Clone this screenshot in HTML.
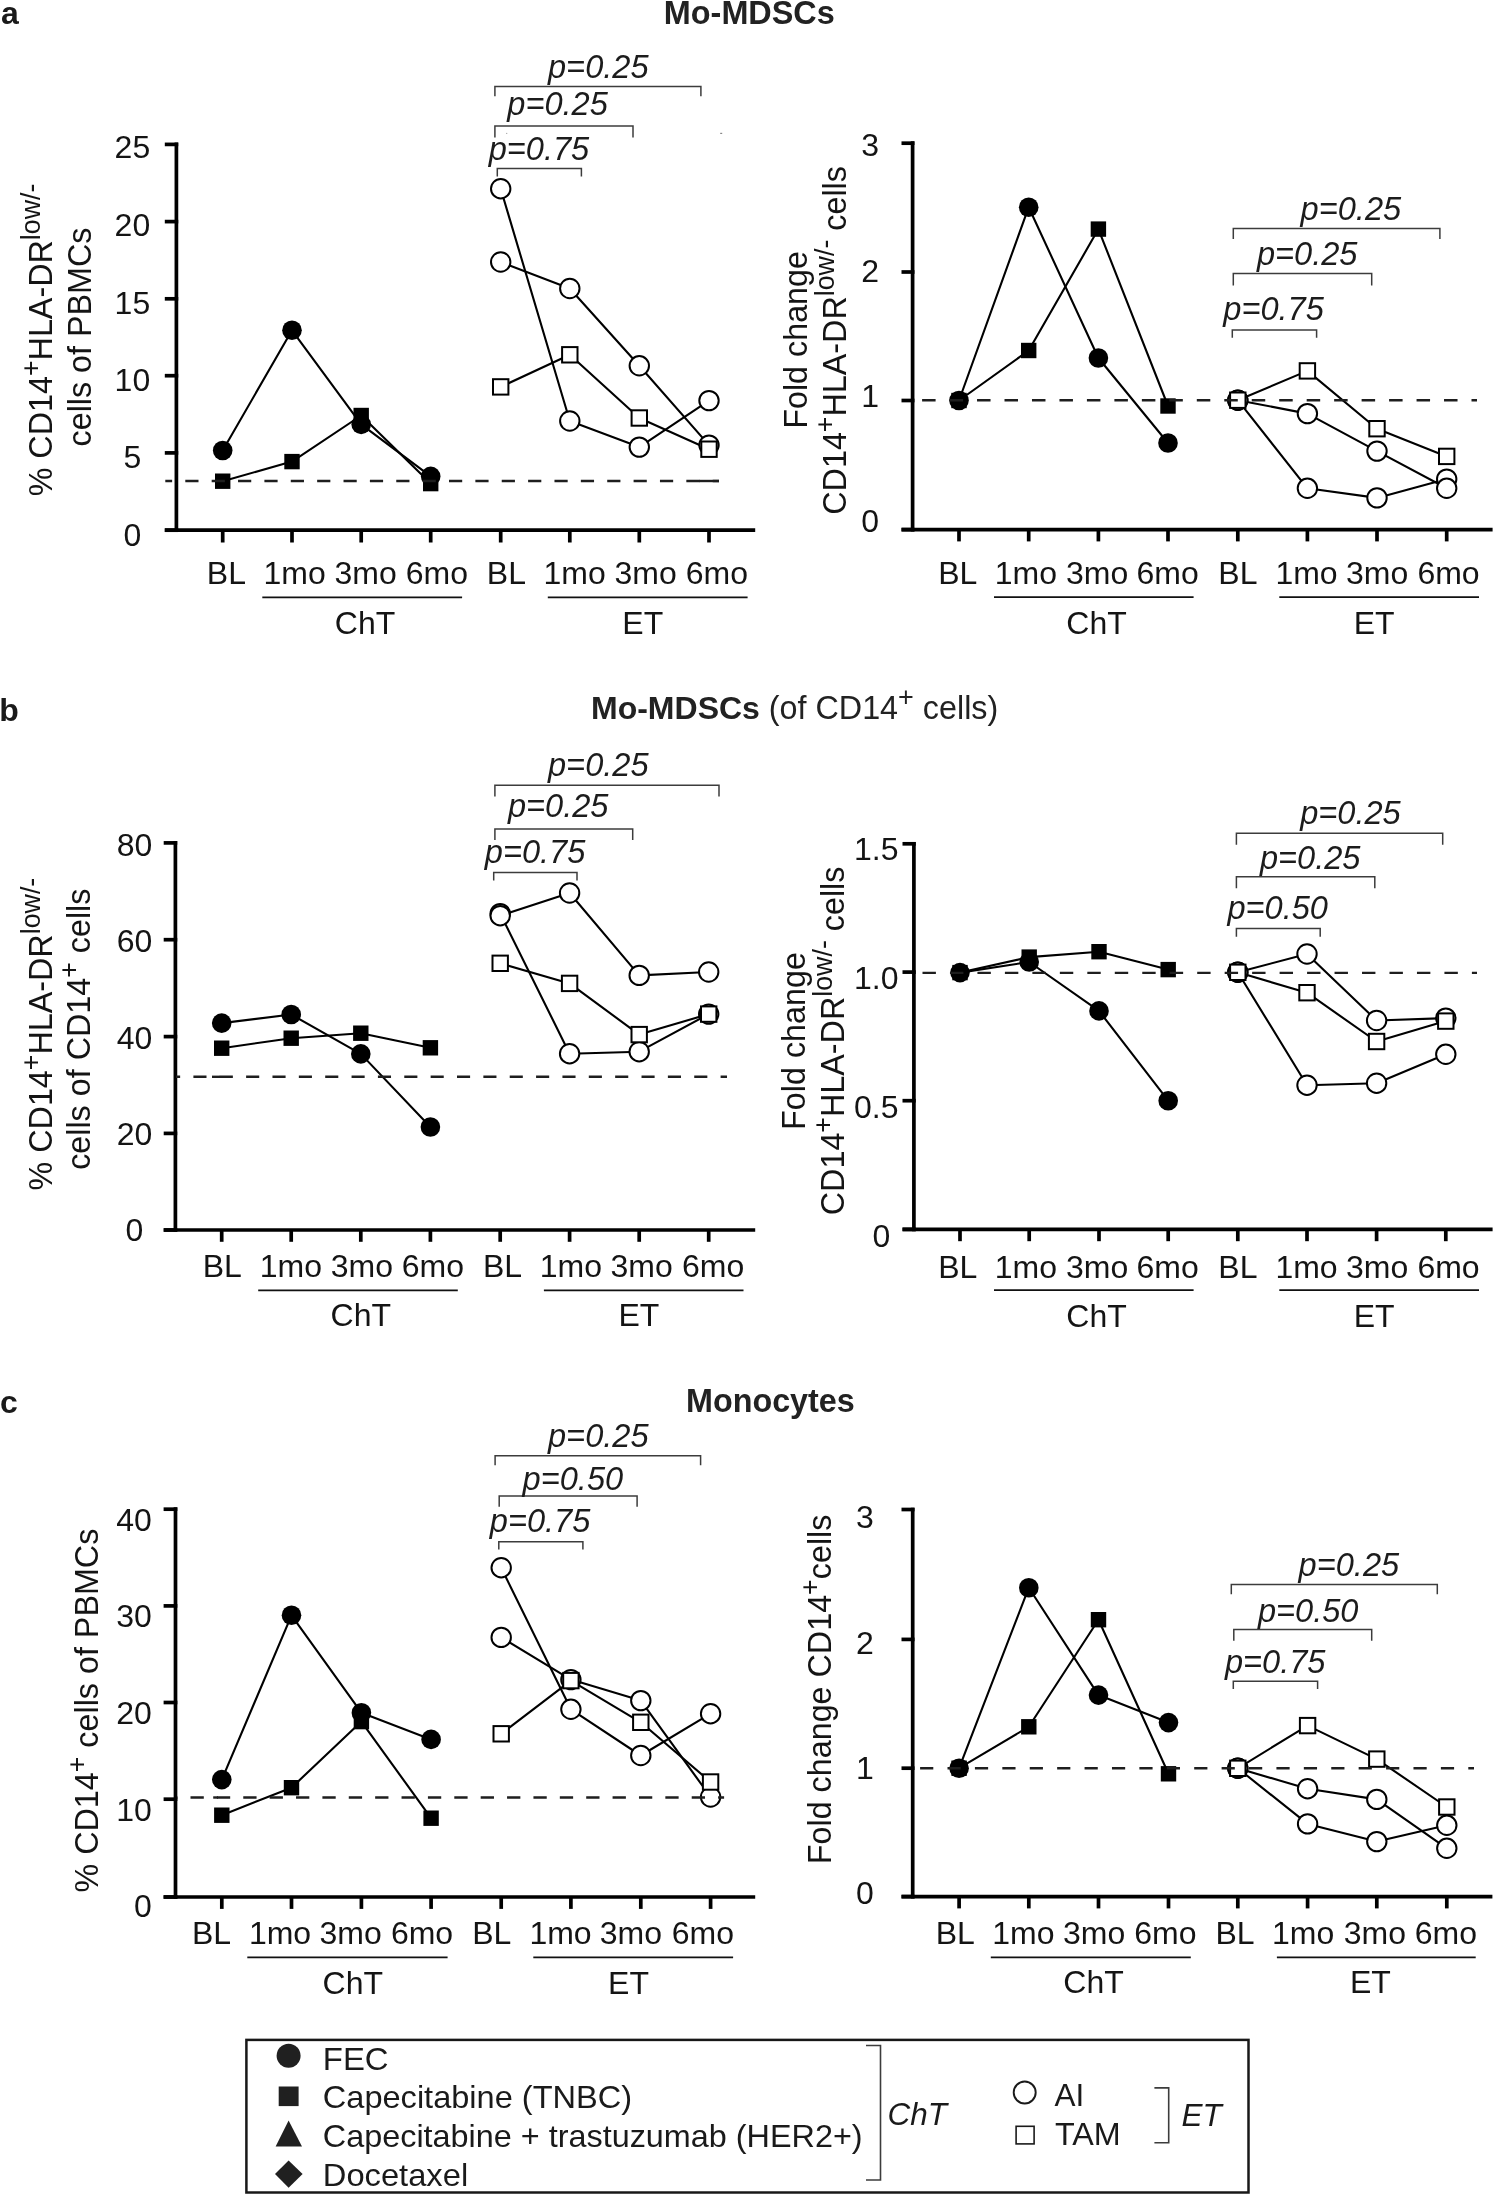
<!DOCTYPE html>
<html><head><meta charset="utf-8"><title>Figure</title><style>html,body{margin:0;padding:0;background:#fff;}svg{display:block;will-change:transform;}text{font-family:"Liberation Sans", sans-serif;}</style></head><body>
<svg width="1494" height="2195" viewBox="0 0 1494 2195" font-family='"Liberation Sans", sans-serif'>
<rect width="1494" height="2195" fill="#fff"/>
<text x="1" y="24.2" font-size="32" text-anchor="start" font-weight="bold" font-style="normal" fill="#1a1a1a" >a</text>
<text x="749.3" y="24" font-size="32.4" text-anchor="middle" font-weight="bold" font-style="normal" fill="#222" >Mo-MDSCs</text>
<text x="-0.7" y="720.8" font-size="32" text-anchor="start" font-weight="bold" font-style="normal" fill="#1a1a1a" >b</text>
<text x="591" y="719.1" font-size="32" fill="#222"><tspan font-weight="bold">Mo-MDSCs</tspan><tspan font-size="32.3"> (of CD14</tspan><tspan font-size="27" dy="-13">+</tspan><tspan dy="13" font-size="32.3"> cells)</tspan></text>
<text x="0" y="1413" font-size="32" text-anchor="start" font-weight="bold" font-style="normal" fill="#1a1a1a" >c</text>
<text x="770.4" y="1411.7" font-size="32.3" text-anchor="middle" font-weight="bold" font-style="normal" fill="#222" >Monocytes</text>
<line x1="164.8" y1="530.2" x2="178.25" y2="530.2" stroke="#000" stroke-width="3.7" />
<line x1="164.8" y1="452.9" x2="178.25" y2="452.9" stroke="#000" stroke-width="3.7" />
<line x1="164.8" y1="375.7" x2="178.25" y2="375.7" stroke="#000" stroke-width="3.7" />
<line x1="164.8" y1="298.8" x2="178.25" y2="298.8" stroke="#000" stroke-width="3.7" />
<line x1="164.8" y1="221.6" x2="178.25" y2="221.6" stroke="#000" stroke-width="3.7" />
<line x1="164.8" y1="144.4" x2="178.25" y2="144.4" stroke="#000" stroke-width="3.7" />
<text x="132.4" y="545.6" font-size="32" text-anchor="middle" font-weight="normal" font-style="normal" fill="#141414" >0</text>
<text x="132.4" y="468.2" font-size="32" text-anchor="middle" font-weight="normal" font-style="normal" fill="#141414" >5</text>
<text x="132.4" y="390.7" font-size="32" text-anchor="middle" font-weight="normal" font-style="normal" fill="#141414" >10</text>
<text x="132.4" y="313.5" font-size="32" text-anchor="middle" font-weight="normal" font-style="normal" fill="#141414" >15</text>
<text x="132.4" y="236" font-size="32" text-anchor="middle" font-weight="normal" font-style="normal" fill="#141414" >20</text>
<text x="132.4" y="158.3" font-size="32" text-anchor="middle" font-weight="normal" font-style="normal" fill="#141414" >25</text>
<line x1="176.4" y1="142.55" x2="176.4" y2="532.05" stroke="#000" stroke-width="3.7" />
<line x1="164.8" y1="530.2" x2="755.2" y2="530.2" stroke="#000" stroke-width="3.7" />
<line x1="222.7" y1="530.2" x2="222.7" y2="542.5" stroke="#000" stroke-width="3.7" />
<line x1="292" y1="530.2" x2="292" y2="542.5" stroke="#000" stroke-width="3.7" />
<line x1="361.2" y1="530.2" x2="361.2" y2="542.5" stroke="#000" stroke-width="3.7" />
<line x1="430.7" y1="530.2" x2="430.7" y2="542.5" stroke="#000" stroke-width="3.7" />
<line x1="500.7" y1="530.2" x2="500.7" y2="542.5" stroke="#000" stroke-width="3.7" />
<line x1="569.8" y1="530.2" x2="569.8" y2="542.5" stroke="#000" stroke-width="3.7" />
<line x1="639.3" y1="530.2" x2="639.3" y2="542.5" stroke="#000" stroke-width="3.7" />
<line x1="709" y1="530.2" x2="709" y2="542.5" stroke="#000" stroke-width="3.7" />
<text x="226.4" y="584.3" font-size="32" text-anchor="middle" font-weight="normal" font-style="normal" fill="#141414" >BL</text>
<text x="294.7" y="584.3" font-size="32" text-anchor="middle" font-weight="normal" font-style="normal" fill="#141414" >1mo</text>
<text x="365.7" y="584.3" font-size="32" text-anchor="middle" font-weight="normal" font-style="normal" fill="#141414" >3mo</text>
<text x="436.8" y="584.3" font-size="32" text-anchor="middle" font-weight="normal" font-style="normal" fill="#141414" >6mo</text>
<text x="506.4" y="584.3" font-size="32" text-anchor="middle" font-weight="normal" font-style="normal" fill="#141414" >BL</text>
<text x="574.7" y="584.3" font-size="32" text-anchor="middle" font-weight="normal" font-style="normal" fill="#141414" >1mo</text>
<text x="645.7" y="584.3" font-size="32" text-anchor="middle" font-weight="normal" font-style="normal" fill="#141414" >3mo</text>
<text x="716.8" y="584.3" font-size="32" text-anchor="middle" font-weight="normal" font-style="normal" fill="#141414" >6mo</text>
<line x1="262.3" y1="597.3" x2="462.1" y2="597.3" stroke="#111" stroke-width="1.8" />
<line x1="547.8" y1="597.3" x2="747.6" y2="597.3" stroke="#111" stroke-width="1.8" />
<text x="365" y="634" font-size="32" text-anchor="middle" font-weight="normal" font-style="normal" fill="#141414" >ChT</text>
<text x="642.8" y="634" font-size="32" text-anchor="middle" font-weight="normal" font-style="normal" fill="#141414" >ET</text>
<polyline points="222.7,481.2 292,461.6 361.2,415.5 430.7,483.6" fill="none" stroke="#000" stroke-width="2.1" stroke-linejoin="round"/>
<polyline points="222.7,450.5 292,330.3 361.2,424.4 430.7,476.4" fill="none" stroke="#000" stroke-width="2.1" stroke-linejoin="round"/>
<polyline points="500.7,188.7 569.8,421 639.3,447.1 709,400.6" fill="none" stroke="#000" stroke-width="2.1" stroke-linejoin="round"/>
<polyline points="500.7,262 569.8,288.5 639.3,365.8 709,445.1" fill="none" stroke="#000" stroke-width="2.1" stroke-linejoin="round"/>
<polyline points="500.7,386.9 569.8,354.8 639.3,418 709,449.2" fill="none" stroke="#000" stroke-width="2.1" stroke-linejoin="round"/>
<rect x="215" y="473.5" width="15.4" height="15.4" fill="#000"/>
<rect x="284.3" y="453.9" width="15.4" height="15.4" fill="#000"/>
<rect x="353.5" y="407.8" width="15.4" height="15.4" fill="#000"/>
<rect x="423" y="475.9" width="15.4" height="15.4" fill="#000"/>
<circle cx="222.7" cy="450.5" r="9.8" fill="#000"/>
<circle cx="292" cy="330.3" r="9.8" fill="#000"/>
<circle cx="361.2" cy="424.4" r="9.8" fill="#000"/>
<circle cx="430.7" cy="476.4" r="9.8" fill="#000"/>
<circle cx="500.7" cy="188.7" r="9.7" fill="#fff" stroke="#000" stroke-width="2"/>
<circle cx="569.8" cy="421" r="9.7" fill="#fff" stroke="#000" stroke-width="2"/>
<circle cx="639.3" cy="447.1" r="9.7" fill="#fff" stroke="#000" stroke-width="2"/>
<circle cx="709" cy="400.6" r="9.7" fill="#fff" stroke="#000" stroke-width="2"/>
<circle cx="500.7" cy="262" r="9.7" fill="#fff" stroke="#000" stroke-width="2"/>
<circle cx="569.8" cy="288.5" r="9.7" fill="#fff" stroke="#000" stroke-width="2"/>
<circle cx="639.3" cy="365.8" r="9.7" fill="#fff" stroke="#000" stroke-width="2"/>
<circle cx="709" cy="445.1" r="9.7" fill="#fff" stroke="#000" stroke-width="2"/>
<rect x="493" y="379.2" width="15.4" height="15.4" fill="#fff" stroke="#000" stroke-width="2"/>
<rect x="562.1" y="347.1" width="15.4" height="15.4" fill="#fff" stroke="#000" stroke-width="2"/>
<rect x="631.6" y="410.3" width="15.4" height="15.4" fill="#fff" stroke="#000" stroke-width="2"/>
<rect x="701.3" y="441.5" width="15.4" height="15.4" fill="#fff" stroke="#000" stroke-width="2"/>
<line x1="165.3" y1="481" x2="719" y2="481" stroke="#1e1e1e" stroke-width="2.4" stroke-dasharray="13.2 13.17" stroke-dashoffset="6.37"/>
<line x1="699" y1="481" x2="719" y2="481" stroke="#1e1e1e" stroke-width="2.4" />
<path d="M494.9,96.2 V86.6 H700.9 V96.2" fill="none" stroke="#3c3c3c" stroke-width="1.5"/>
<path d="M494.9,137.4 V126 H633 V137.4" fill="none" stroke="#3c3c3c" stroke-width="1.5"/>
<path d="M497.3,176.5 V168.5 H581.4 V176.5" fill="none" stroke="#3c3c3c" stroke-width="1.5"/>
<text x="548" y="78.2" font-size="32.6" text-anchor="start" font-weight="normal" font-style="italic" fill="#1c1c1c" ><tspan>p=0.25</tspan></text>
<text x="507.3" y="115.3" font-size="32.6" text-anchor="start" font-weight="normal" font-style="italic" fill="#1c1c1c" >p=0.25</text>
<text x="488.7" y="159.5" font-size="32.6" text-anchor="start" font-weight="normal" font-style="italic" fill="#1c1c1c" >p=0.75</text>
<text transform="translate(52,340) rotate(-90)" x="0" y="0" font-size="32.3" text-anchor="middle" fill="#141414">% CD14<tspan font-size="26.8" dy="-12">+</tspan><tspan dy="12">HLA-DR</tspan><tspan font-size="26.8" dy="-12">low/-</tspan></text>
<text transform="translate(90.7,337) rotate(-90)" x="0" y="0" font-size="32.3" text-anchor="middle" fill="#141414">cells of PBMCs</text>
<line x1="901.5" y1="529.6" x2="914.45" y2="529.6" stroke="#000" stroke-width="3.7" />
<line x1="901.5" y1="400.5" x2="914.45" y2="400.5" stroke="#000" stroke-width="3.7" />
<line x1="901.5" y1="272" x2="914.45" y2="272" stroke="#000" stroke-width="3.7" />
<line x1="901.5" y1="143.2" x2="914.45" y2="143.2" stroke="#000" stroke-width="3.7" />
<text x="870.1" y="532.3" font-size="32" text-anchor="middle" font-weight="normal" font-style="normal" fill="#141414" >0</text>
<text x="870.1" y="407.1" font-size="32" text-anchor="middle" font-weight="normal" font-style="normal" fill="#141414" >1</text>
<text x="870.1" y="281.7" font-size="32" text-anchor="middle" font-weight="normal" font-style="normal" fill="#141414" >2</text>
<text x="870.1" y="155.8" font-size="32" text-anchor="middle" font-weight="normal" font-style="normal" fill="#141414" >3</text>
<line x1="912.6" y1="141.35" x2="912.6" y2="531.45" stroke="#000" stroke-width="3.7" />
<line x1="901.5" y1="529.6" x2="1492.6" y2="529.6" stroke="#000" stroke-width="3.7" />
<line x1="959" y1="529.6" x2="959" y2="541.4" stroke="#000" stroke-width="3.7" />
<line x1="1028.7" y1="529.6" x2="1028.7" y2="541.4" stroke="#000" stroke-width="3.7" />
<line x1="1098.4" y1="529.6" x2="1098.4" y2="541.4" stroke="#000" stroke-width="3.7" />
<line x1="1168" y1="529.6" x2="1168" y2="541.4" stroke="#000" stroke-width="3.7" />
<line x1="1237.8" y1="529.6" x2="1237.8" y2="541.4" stroke="#000" stroke-width="3.7" />
<line x1="1307.4" y1="529.6" x2="1307.4" y2="541.4" stroke="#000" stroke-width="3.7" />
<line x1="1377" y1="529.6" x2="1377" y2="541.4" stroke="#000" stroke-width="3.7" />
<line x1="1446.7" y1="529.6" x2="1446.7" y2="541.4" stroke="#000" stroke-width="3.7" />
<text x="957.8" y="584.1" font-size="32" text-anchor="middle" font-weight="normal" font-style="normal" fill="#141414" >BL</text>
<text x="1025.9" y="584.1" font-size="32" text-anchor="middle" font-weight="normal" font-style="normal" fill="#141414" >1mo</text>
<text x="1097.1" y="584.1" font-size="32" text-anchor="middle" font-weight="normal" font-style="normal" fill="#141414" >3mo</text>
<text x="1167.6" y="584.1" font-size="32" text-anchor="middle" font-weight="normal" font-style="normal" fill="#141414" >6mo</text>
<text x="1237.9" y="584.1" font-size="32" text-anchor="middle" font-weight="normal" font-style="normal" fill="#141414" >BL</text>
<text x="1306.5" y="584.1" font-size="32" text-anchor="middle" font-weight="normal" font-style="normal" fill="#141414" >1mo</text>
<text x="1377.1" y="584.1" font-size="32" text-anchor="middle" font-weight="normal" font-style="normal" fill="#141414" >3mo</text>
<text x="1448.5" y="584.1" font-size="32" text-anchor="middle" font-weight="normal" font-style="normal" fill="#141414" >6mo</text>
<line x1="994" y1="597.2" x2="1193.6" y2="597.2" stroke="#111" stroke-width="1.8" />
<line x1="1279.3" y1="597.2" x2="1479" y2="597.2" stroke="#111" stroke-width="1.8" />
<text x="1096.5" y="633.8" font-size="32" text-anchor="middle" font-weight="normal" font-style="normal" fill="#141414" >ChT</text>
<text x="1374.2" y="633.8" font-size="32" text-anchor="middle" font-weight="normal" font-style="normal" fill="#141414" >ET</text>
<polyline points="959,400.5 1028.7,350.5 1098.4,229.1 1168,406" fill="none" stroke="#000" stroke-width="2.1" stroke-linejoin="round"/>
<polyline points="959,400.5 1028.7,207.2 1098.4,358 1168,443" fill="none" stroke="#000" stroke-width="2.1" stroke-linejoin="round"/>
<polyline points="1237.8,400.2 1307.4,488.3 1377,497.9 1446.7,479.1" fill="none" stroke="#000" stroke-width="2.1" stroke-linejoin="round"/>
<polyline points="1237.8,400.2 1307.4,413.6 1377,451.1 1446.7,488.3" fill="none" stroke="#000" stroke-width="2.1" stroke-linejoin="round"/>
<polyline points="1237.8,400.2 1307.4,370.9 1377,428.7 1446.7,456.4" fill="none" stroke="#000" stroke-width="2.1" stroke-linejoin="round"/>
<rect x="951.3" y="392.8" width="15.4" height="15.4" fill="#000"/>
<rect x="1021" y="342.8" width="15.4" height="15.4" fill="#000"/>
<rect x="1090.7" y="221.4" width="15.4" height="15.4" fill="#000"/>
<rect x="1160.3" y="398.3" width="15.4" height="15.4" fill="#000"/>
<circle cx="959" cy="400.5" r="9.8" fill="#000"/>
<circle cx="1028.7" cy="207.2" r="9.8" fill="#000"/>
<circle cx="1098.4" cy="358" r="9.8" fill="#000"/>
<circle cx="1168" cy="443" r="9.8" fill="#000"/>
<circle cx="1237.8" cy="400.2" r="9.7" fill="#fff" stroke="#000" stroke-width="2"/>
<circle cx="1307.4" cy="488.3" r="9.7" fill="#fff" stroke="#000" stroke-width="2"/>
<circle cx="1377" cy="497.9" r="9.7" fill="#fff" stroke="#000" stroke-width="2"/>
<circle cx="1446.7" cy="479.1" r="9.7" fill="#fff" stroke="#000" stroke-width="2"/>
<circle cx="1237.8" cy="400.2" r="9.7" fill="#fff" stroke="#000" stroke-width="2"/>
<circle cx="1307.4" cy="413.6" r="9.7" fill="#fff" stroke="#000" stroke-width="2"/>
<circle cx="1377" cy="451.1" r="9.7" fill="#fff" stroke="#000" stroke-width="2"/>
<circle cx="1446.7" cy="488.3" r="9.7" fill="#fff" stroke="#000" stroke-width="2"/>
<rect x="1230.1" y="392.5" width="15.4" height="15.4" fill="#fff" stroke="#000" stroke-width="2"/>
<rect x="1299.7" y="363.2" width="15.4" height="15.4" fill="#fff" stroke="#000" stroke-width="2"/>
<rect x="1369.3" y="421" width="15.4" height="15.4" fill="#fff" stroke="#000" stroke-width="2"/>
<rect x="1439" y="448.7" width="15.4" height="15.4" fill="#fff" stroke="#000" stroke-width="2"/>
<line x1="914" y1="400.3" x2="1477" y2="400.3" stroke="#1e1e1e" stroke-width="2.4" stroke-dasharray="13.5 13.97" stroke-dashoffset="19.37"/>
<path d="M1233.3,239 V228.4 H1439.9 V239" fill="none" stroke="#3c3c3c" stroke-width="1.5"/>
<path d="M1233.3,285.4 V273.6 H1371.7 V285.4" fill="none" stroke="#3c3c3c" stroke-width="1.5"/>
<path d="M1232.3,337.7 V330 H1316.6 V337.7" fill="none" stroke="#3c3c3c" stroke-width="1.5"/>
<text x="1300.6" y="219.7" font-size="32.6" text-anchor="start" font-weight="normal" font-style="italic" fill="#1c1c1c" >p=0.25</text>
<text x="1256.9" y="264.5" font-size="32.6" text-anchor="start" font-weight="normal" font-style="italic" fill="#1c1c1c" >p=0.25</text>
<text x="1223.3" y="320.4" font-size="32.6" text-anchor="start" font-weight="normal" font-style="italic" fill="#1c1c1c" >p=0.75</text>
<text transform="translate(807.1,339.9) rotate(-90)" x="0" y="0" font-size="32.3" text-anchor="middle" fill="#141414">Fold change</text>
<text transform="translate(845.9,340.4) rotate(-90)" x="0" y="0" font-size="32.3" text-anchor="middle" fill="#141414">CD14<tspan font-size="26.8" dy="-12">+</tspan><tspan dy="12">HLA-DR</tspan><tspan font-size="26.8" dy="-12">low/-</tspan><tspan dy="12"> cells</tspan></text>
<line x1="163.7" y1="1230" x2="177.25" y2="1230" stroke="#000" stroke-width="3.7" />
<line x1="163.7" y1="1133.4" x2="177.25" y2="1133.4" stroke="#000" stroke-width="3.7" />
<line x1="163.7" y1="1036.6" x2="177.25" y2="1036.6" stroke="#000" stroke-width="3.7" />
<line x1="163.7" y1="939.7" x2="177.25" y2="939.7" stroke="#000" stroke-width="3.7" />
<line x1="163.7" y1="842.9" x2="177.25" y2="842.9" stroke="#000" stroke-width="3.7" />
<text x="134.5" y="1241.1" font-size="32" text-anchor="middle" font-weight="normal" font-style="normal" fill="#141414" >0</text>
<text x="134.5" y="1145.4" font-size="32" text-anchor="middle" font-weight="normal" font-style="normal" fill="#141414" >20</text>
<text x="134.5" y="1049.2" font-size="32" text-anchor="middle" font-weight="normal" font-style="normal" fill="#141414" >40</text>
<text x="134.5" y="952.4" font-size="32" text-anchor="middle" font-weight="normal" font-style="normal" fill="#141414" >60</text>
<text x="134.5" y="855.6" font-size="32" text-anchor="middle" font-weight="normal" font-style="normal" fill="#141414" >80</text>
<line x1="175.4" y1="841.05" x2="175.4" y2="1231.85" stroke="#000" stroke-width="3.7" />
<line x1="163.7" y1="1230" x2="755.2" y2="1230" stroke="#000" stroke-width="3.7" />
<line x1="221.7" y1="1230" x2="221.7" y2="1241.8" stroke="#000" stroke-width="3.7" />
<line x1="291.2" y1="1230" x2="291.2" y2="1241.8" stroke="#000" stroke-width="3.7" />
<line x1="360.8" y1="1230" x2="360.8" y2="1241.8" stroke="#000" stroke-width="3.7" />
<line x1="430.4" y1="1230" x2="430.4" y2="1241.8" stroke="#000" stroke-width="3.7" />
<line x1="500.2" y1="1230" x2="500.2" y2="1241.8" stroke="#000" stroke-width="3.7" />
<line x1="569.6" y1="1230" x2="569.6" y2="1241.8" stroke="#000" stroke-width="3.7" />
<line x1="639.2" y1="1230" x2="639.2" y2="1241.8" stroke="#000" stroke-width="3.7" />
<line x1="708.7" y1="1230" x2="708.7" y2="1241.8" stroke="#000" stroke-width="3.7" />
<text x="222.3" y="1277.2" font-size="32" text-anchor="middle" font-weight="normal" font-style="normal" fill="#141414" >BL</text>
<text x="290.8" y="1277.2" font-size="32" text-anchor="middle" font-weight="normal" font-style="normal" fill="#141414" >1mo</text>
<text x="361.8" y="1277.2" font-size="32" text-anchor="middle" font-weight="normal" font-style="normal" fill="#141414" >3mo</text>
<text x="432.9" y="1277.2" font-size="32" text-anchor="middle" font-weight="normal" font-style="normal" fill="#141414" >6mo</text>
<text x="502.6" y="1277.2" font-size="32" text-anchor="middle" font-weight="normal" font-style="normal" fill="#141414" >BL</text>
<text x="570.8" y="1277.2" font-size="32" text-anchor="middle" font-weight="normal" font-style="normal" fill="#141414" >1mo</text>
<text x="641.7" y="1277.2" font-size="32" text-anchor="middle" font-weight="normal" font-style="normal" fill="#141414" >3mo</text>
<text x="713.2" y="1277.2" font-size="32" text-anchor="middle" font-weight="normal" font-style="normal" fill="#141414" >6mo</text>
<line x1="258.2" y1="1290.3" x2="457.8" y2="1290.3" stroke="#111" stroke-width="1.8" />
<line x1="543.9" y1="1290.3" x2="743.5" y2="1290.3" stroke="#111" stroke-width="1.8" />
<text x="360.8" y="1326.4" font-size="32" text-anchor="middle" font-weight="normal" font-style="normal" fill="#141414" >ChT</text>
<text x="638.9" y="1326.4" font-size="32" text-anchor="middle" font-weight="normal" font-style="normal" fill="#141414" >ET</text>
<polyline points="221.7,1048.2 291.2,1038.2 360.8,1033.2 430.4,1047.8" fill="none" stroke="#000" stroke-width="2.1" stroke-linejoin="round"/>
<polyline points="221.7,1023.1 291.2,1014.5 360.8,1053.9 430.4,1127" fill="none" stroke="#000" stroke-width="2.1" stroke-linejoin="round"/>
<polyline points="500.2,913.6 569.6,1053.7 639.2,1051.7 708.7,1014.1" fill="none" stroke="#000" stroke-width="2.1" stroke-linejoin="round"/>
<polyline points="500.2,915.7 569.6,893 639.2,975.4 708.7,972" fill="none" stroke="#000" stroke-width="2.1" stroke-linejoin="round"/>
<polyline points="500.2,963.3 569.6,983.4 639.2,1034.6 708.7,1014.1" fill="none" stroke="#000" stroke-width="2.1" stroke-linejoin="round"/>
<rect x="214" y="1040.5" width="15.4" height="15.4" fill="#000"/>
<rect x="283.5" y="1030.5" width="15.4" height="15.4" fill="#000"/>
<rect x="353.1" y="1025.5" width="15.4" height="15.4" fill="#000"/>
<rect x="422.7" y="1040.1" width="15.4" height="15.4" fill="#000"/>
<circle cx="221.7" cy="1023.1" r="9.8" fill="#000"/>
<circle cx="291.2" cy="1014.5" r="9.8" fill="#000"/>
<circle cx="360.8" cy="1053.9" r="9.8" fill="#000"/>
<circle cx="430.4" cy="1127" r="9.8" fill="#000"/>
<circle cx="500.2" cy="913.6" r="9.7" fill="#fff" stroke="#000" stroke-width="2"/>
<circle cx="569.6" cy="1053.7" r="9.7" fill="#fff" stroke="#000" stroke-width="2"/>
<circle cx="639.2" cy="1051.7" r="9.7" fill="#fff" stroke="#000" stroke-width="2"/>
<circle cx="708.7" cy="1014.1" r="9.7" fill="#fff" stroke="#000" stroke-width="2"/>
<circle cx="500.2" cy="915.7" r="9.7" fill="#fff" stroke="#000" stroke-width="2"/>
<circle cx="569.6" cy="893" r="9.7" fill="#fff" stroke="#000" stroke-width="2"/>
<circle cx="639.2" cy="975.4" r="9.7" fill="#fff" stroke="#000" stroke-width="2"/>
<circle cx="708.7" cy="972" r="9.7" fill="#fff" stroke="#000" stroke-width="2"/>
<rect x="492.5" y="955.6" width="15.4" height="15.4" fill="#fff" stroke="#000" stroke-width="2"/>
<rect x="561.9" y="975.7" width="15.4" height="15.4" fill="#fff" stroke="#000" stroke-width="2"/>
<rect x="631.5" y="1026.9" width="15.4" height="15.4" fill="#fff" stroke="#000" stroke-width="2"/>
<rect x="701" y="1006.4" width="15.4" height="15.4" fill="#fff" stroke="#000" stroke-width="2"/>
<line x1="176" y1="1076.8" x2="727" y2="1076.8" stroke="#1e1e1e" stroke-width="2.4" stroke-dasharray="13.1 13.26" stroke-dashoffset="8.96"/>
<line x1="212" y1="1076.8" x2="220" y2="1076.8" stroke="#1e1e1e" stroke-width="2.4" />
<path d="M494.9,796.6 V785.2 H719 V796.6" fill="none" stroke="#3c3c3c" stroke-width="1.5"/>
<path d="M494.9,840 V829 H632.7 V840" fill="none" stroke="#3c3c3c" stroke-width="1.5"/>
<path d="M493.7,880.6 V872.5 H577 V880.6" fill="none" stroke="#3c3c3c" stroke-width="1.5"/>
<text x="548" y="776.1" font-size="32.6" text-anchor="start" font-weight="normal" font-style="italic" fill="#1c1c1c" >p=0.25</text>
<text x="507.9" y="817.3" font-size="32.6" text-anchor="start" font-weight="normal" font-style="italic" fill="#1c1c1c" >p=0.25</text>
<text x="484.8" y="862.5" font-size="32.6" text-anchor="start" font-weight="normal" font-style="italic" fill="#1c1c1c" >p=0.75</text>
<text transform="translate(51.9,1034.1) rotate(-90)" x="0" y="0" font-size="32.3" text-anchor="middle" fill="#141414">% CD14<tspan font-size="26.8" dy="-12">+</tspan><tspan dy="12">HLA-DR</tspan><tspan font-size="26.8" dy="-12">low/-</tspan></text>
<text transform="translate(90.1,1029.2) rotate(-90)" x="0" y="0" font-size="32.3" text-anchor="middle" fill="#141414">cells of CD14<tspan font-size="26.8" dy="-12">+</tspan><tspan dy="12"> cells</tspan></text>
<line x1="902.5" y1="1229.4" x2="915.75" y2="1229.4" stroke="#000" stroke-width="3.7" />
<line x1="902.5" y1="1100.7" x2="915.75" y2="1100.7" stroke="#000" stroke-width="3.7" />
<line x1="902.5" y1="972.1" x2="915.75" y2="972.1" stroke="#000" stroke-width="3.7" />
<line x1="902.5" y1="843.8" x2="915.75" y2="843.8" stroke="#000" stroke-width="3.7" />
<text x="881.5" y="1246.9" font-size="32" text-anchor="middle" font-weight="normal" font-style="normal" fill="#141414" >0</text>
<text x="876.3" y="1118.3" font-size="32" text-anchor="middle" font-weight="normal" font-style="normal" fill="#141414" >0.5</text>
<text x="876.3" y="989.1" font-size="32" text-anchor="middle" font-weight="normal" font-style="normal" fill="#141414" >1.0</text>
<text x="876.3" y="860.2" font-size="32" text-anchor="middle" font-weight="normal" font-style="normal" fill="#141414" >1.5</text>
<line x1="913.9" y1="841.95" x2="913.9" y2="1231.25" stroke="#000" stroke-width="3.7" />
<line x1="902.5" y1="1229.4" x2="1492.6" y2="1229.4" stroke="#000" stroke-width="3.7" />
<line x1="960" y1="1229.4" x2="960" y2="1241.2" stroke="#000" stroke-width="3.7" />
<line x1="1029.2" y1="1229.4" x2="1029.2" y2="1241.2" stroke="#000" stroke-width="3.7" />
<line x1="1099" y1="1229.4" x2="1099" y2="1241.2" stroke="#000" stroke-width="3.7" />
<line x1="1168.2" y1="1229.4" x2="1168.2" y2="1241.2" stroke="#000" stroke-width="3.7" />
<line x1="1237.8" y1="1229.4" x2="1237.8" y2="1241.2" stroke="#000" stroke-width="3.7" />
<line x1="1307" y1="1229.4" x2="1307" y2="1241.2" stroke="#000" stroke-width="3.7" />
<line x1="1376.6" y1="1229.4" x2="1376.6" y2="1241.2" stroke="#000" stroke-width="3.7" />
<line x1="1445.8" y1="1229.4" x2="1445.8" y2="1241.2" stroke="#000" stroke-width="3.7" />
<text x="957.8" y="1277.5" font-size="32" text-anchor="middle" font-weight="normal" font-style="normal" fill="#141414" >BL</text>
<text x="1025.9" y="1277.5" font-size="32" text-anchor="middle" font-weight="normal" font-style="normal" fill="#141414" >1mo</text>
<text x="1097.1" y="1277.5" font-size="32" text-anchor="middle" font-weight="normal" font-style="normal" fill="#141414" >3mo</text>
<text x="1167.6" y="1277.5" font-size="32" text-anchor="middle" font-weight="normal" font-style="normal" fill="#141414" >6mo</text>
<text x="1237.9" y="1277.5" font-size="32" text-anchor="middle" font-weight="normal" font-style="normal" fill="#141414" >BL</text>
<text x="1306.5" y="1277.5" font-size="32" text-anchor="middle" font-weight="normal" font-style="normal" fill="#141414" >1mo</text>
<text x="1377.1" y="1277.5" font-size="32" text-anchor="middle" font-weight="normal" font-style="normal" fill="#141414" >3mo</text>
<text x="1448.5" y="1277.5" font-size="32" text-anchor="middle" font-weight="normal" font-style="normal" fill="#141414" >6mo</text>
<line x1="994" y1="1290.2" x2="1193.6" y2="1290.2" stroke="#111" stroke-width="1.8" />
<line x1="1279.3" y1="1290.2" x2="1479" y2="1290.2" stroke="#111" stroke-width="1.8" />
<text x="1096.5" y="1327.1" font-size="32" text-anchor="middle" font-weight="normal" font-style="normal" fill="#141414" >ChT</text>
<text x="1374.2" y="1327.1" font-size="32" text-anchor="middle" font-weight="normal" font-style="normal" fill="#141414" >ET</text>
<polyline points="960,972.6 1029.2,957.1 1099,951.7 1168.2,969.6" fill="none" stroke="#000" stroke-width="2.1" stroke-linejoin="round"/>
<polyline points="960,972.6 1029.2,962 1099,1010.9 1168.2,1100.7" fill="none" stroke="#000" stroke-width="2.1" stroke-linejoin="round"/>
<polyline points="1237.8,972.3 1307,954 1376.6,1020.5 1445.8,1018.1" fill="none" stroke="#000" stroke-width="2.1" stroke-linejoin="round"/>
<polyline points="1237.8,972.3 1307,1085.2 1376.6,1083.2 1445.8,1054.3" fill="none" stroke="#000" stroke-width="2.1" stroke-linejoin="round"/>
<polyline points="1237.8,972.3 1307,992.7 1376.6,1041.5 1445.8,1021.1" fill="none" stroke="#000" stroke-width="2.1" stroke-linejoin="round"/>
<rect x="952.3" y="964.9" width="15.4" height="15.4" fill="#000"/>
<rect x="1021.5" y="949.4" width="15.4" height="15.4" fill="#000"/>
<rect x="1091.3" y="944" width="15.4" height="15.4" fill="#000"/>
<rect x="1160.5" y="961.9" width="15.4" height="15.4" fill="#000"/>
<circle cx="960" cy="972.6" r="9.8" fill="#000"/>
<circle cx="1029.2" cy="962" r="9.8" fill="#000"/>
<circle cx="1099" cy="1010.9" r="9.8" fill="#000"/>
<circle cx="1168.2" cy="1100.7" r="9.8" fill="#000"/>
<circle cx="1237.8" cy="972.3" r="9.7" fill="#fff" stroke="#000" stroke-width="2"/>
<circle cx="1307" cy="954" r="9.7" fill="#fff" stroke="#000" stroke-width="2"/>
<circle cx="1376.6" cy="1020.5" r="9.7" fill="#fff" stroke="#000" stroke-width="2"/>
<circle cx="1445.8" cy="1018.1" r="9.7" fill="#fff" stroke="#000" stroke-width="2"/>
<circle cx="1237.8" cy="972.3" r="9.7" fill="#fff" stroke="#000" stroke-width="2"/>
<circle cx="1307" cy="1085.2" r="9.7" fill="#fff" stroke="#000" stroke-width="2"/>
<circle cx="1376.6" cy="1083.2" r="9.7" fill="#fff" stroke="#000" stroke-width="2"/>
<circle cx="1445.8" cy="1054.3" r="9.7" fill="#fff" stroke="#000" stroke-width="2"/>
<rect x="1230.1" y="964.6" width="15.4" height="15.4" fill="#fff" stroke="#000" stroke-width="2"/>
<rect x="1299.3" y="985" width="15.4" height="15.4" fill="#fff" stroke="#000" stroke-width="2"/>
<rect x="1368.9" y="1033.8" width="15.4" height="15.4" fill="#fff" stroke="#000" stroke-width="2"/>
<rect x="1438.1" y="1013.4" width="15.4" height="15.4" fill="#fff" stroke="#000" stroke-width="2"/>
<line x1="914" y1="972.9" x2="1477" y2="972.9" stroke="#1e1e1e" stroke-width="2.4" stroke-dasharray="13.4 14.07" stroke-dashoffset="18.97"/>
<path d="M1236.4,844.7 V833.3 H1442.7 V844.7" fill="none" stroke="#3c3c3c" stroke-width="1.5"/>
<path d="M1236.4,888.3 V876.7 H1374.8 V888.3" fill="none" stroke="#3c3c3c" stroke-width="1.5"/>
<path d="M1236.4,936.7 V928.6 H1320.2 V936.7" fill="none" stroke="#3c3c3c" stroke-width="1.5"/>
<text x="1300.2" y="823.8" font-size="32.6" text-anchor="start" font-weight="normal" font-style="italic" fill="#1c1c1c" >p=0.25</text>
<text x="1259.9" y="868.5" font-size="32.6" text-anchor="start" font-weight="normal" font-style="italic" fill="#1c1c1c" >p=0.25</text>
<text x="1227.4" y="919.4" font-size="32.6" text-anchor="start" font-weight="normal" font-style="italic" fill="#1c1c1c" >p=0.50</text>
<text transform="translate(805.3,1041) rotate(-90)" x="0" y="0" font-size="32.3" text-anchor="middle" fill="#141414">Fold change</text>
<text transform="translate(843.6,1040.9) rotate(-90)" x="0" y="0" font-size="32.3" text-anchor="middle" fill="#141414">CD14<tspan font-size="26.8" dy="-12">+</tspan><tspan dy="12">HLA-DR</tspan><tspan font-size="26.8" dy="-12">low/-</tspan><tspan dy="12"> cells</tspan></text>
<line x1="163.6" y1="1897" x2="177.35" y2="1897" stroke="#000" stroke-width="3.7" />
<line x1="163.6" y1="1799.2" x2="177.35" y2="1799.2" stroke="#000" stroke-width="3.7" />
<line x1="163.6" y1="1702.5" x2="177.35" y2="1702.5" stroke="#000" stroke-width="3.7" />
<line x1="163.6" y1="1605.9" x2="177.35" y2="1605.9" stroke="#000" stroke-width="3.7" />
<line x1="163.6" y1="1509.2" x2="177.35" y2="1509.2" stroke="#000" stroke-width="3.7" />
<text x="151.8" y="1917.2" font-size="32" text-anchor="end" font-weight="normal" font-style="normal" fill="#141414" >0</text>
<text x="151.8" y="1820.7" font-size="32" text-anchor="end" font-weight="normal" font-style="normal" fill="#141414" >10</text>
<text x="151.8" y="1723.8" font-size="32" text-anchor="end" font-weight="normal" font-style="normal" fill="#141414" >20</text>
<text x="151.8" y="1627.4" font-size="32" text-anchor="end" font-weight="normal" font-style="normal" fill="#141414" >30</text>
<text x="151.8" y="1530.6" font-size="32" text-anchor="end" font-weight="normal" font-style="normal" fill="#141414" >40</text>
<line x1="175.5" y1="1507.35" x2="175.5" y2="1898.85" stroke="#000" stroke-width="3.7" />
<line x1="163.6" y1="1897" x2="755.2" y2="1897" stroke="#000" stroke-width="3.7" />
<line x1="221.8" y1="1897" x2="221.8" y2="1908.9" stroke="#000" stroke-width="3.7" />
<line x1="291.5" y1="1897" x2="291.5" y2="1908.9" stroke="#000" stroke-width="3.7" />
<line x1="361.4" y1="1897" x2="361.4" y2="1908.9" stroke="#000" stroke-width="3.7" />
<line x1="431.1" y1="1897" x2="431.1" y2="1908.9" stroke="#000" stroke-width="3.7" />
<line x1="501.2" y1="1897" x2="501.2" y2="1908.9" stroke="#000" stroke-width="3.7" />
<line x1="570.9" y1="1897" x2="570.9" y2="1908.9" stroke="#000" stroke-width="3.7" />
<line x1="640.8" y1="1897" x2="640.8" y2="1908.9" stroke="#000" stroke-width="3.7" />
<line x1="710.6" y1="1897" x2="710.6" y2="1908.9" stroke="#000" stroke-width="3.7" />
<text x="211.5" y="1944.3" font-size="32" text-anchor="middle" font-weight="normal" font-style="normal" fill="#141414" >BL</text>
<text x="280" y="1944.3" font-size="32" text-anchor="middle" font-weight="normal" font-style="normal" fill="#141414" >1mo</text>
<text x="350.7" y="1944.3" font-size="32" text-anchor="middle" font-weight="normal" font-style="normal" fill="#141414" >3mo</text>
<text x="422" y="1944.3" font-size="32" text-anchor="middle" font-weight="normal" font-style="normal" fill="#141414" >6mo</text>
<text x="491.8" y="1944.3" font-size="32" text-anchor="middle" font-weight="normal" font-style="normal" fill="#141414" >BL</text>
<text x="560.5" y="1944.3" font-size="32" text-anchor="middle" font-weight="normal" font-style="normal" fill="#141414" >1mo</text>
<text x="630.9" y="1944.3" font-size="32" text-anchor="middle" font-weight="normal" font-style="normal" fill="#141414" >3mo</text>
<text x="702.8" y="1944.3" font-size="32" text-anchor="middle" font-weight="normal" font-style="normal" fill="#141414" >6mo</text>
<line x1="247.3" y1="1957.3" x2="447.6" y2="1957.3" stroke="#111" stroke-width="1.8" />
<line x1="533.3" y1="1957.3" x2="733.1" y2="1957.3" stroke="#111" stroke-width="1.8" />
<text x="352.8" y="1993.5" font-size="32" text-anchor="middle" font-weight="normal" font-style="normal" fill="#141414" >ChT</text>
<text x="628.5" y="1993.5" font-size="32" text-anchor="middle" font-weight="normal" font-style="normal" fill="#141414" >ET</text>
<polyline points="221.8,1815.2 291.5,1787.7 361.4,1721.6 431.1,1818.2" fill="none" stroke="#000" stroke-width="2.1" stroke-linejoin="round"/>
<polyline points="221.8,1779.6 291.5,1615.3 361.4,1712.7 431.1,1739.4" fill="none" stroke="#000" stroke-width="2.1" stroke-linejoin="round"/>
<polyline points="501.2,1567.7 570.9,1709.3 640.8,1755.5 710.6,1713.7" fill="none" stroke="#000" stroke-width="2.1" stroke-linejoin="round"/>
<polyline points="501.2,1637.4 570.9,1679.6 640.8,1700.6 710.6,1797" fill="none" stroke="#000" stroke-width="2.1" stroke-linejoin="round"/>
<polyline points="501.2,1733.8 570.9,1680.6 640.8,1722.3 710.6,1782" fill="none" stroke="#000" stroke-width="2.1" stroke-linejoin="round"/>
<rect x="214.1" y="1807.5" width="15.4" height="15.4" fill="#000"/>
<rect x="283.8" y="1780" width="15.4" height="15.4" fill="#000"/>
<rect x="353.7" y="1713.9" width="15.4" height="15.4" fill="#000"/>
<rect x="423.4" y="1810.5" width="15.4" height="15.4" fill="#000"/>
<circle cx="221.8" cy="1779.6" r="9.8" fill="#000"/>
<circle cx="291.5" cy="1615.3" r="9.8" fill="#000"/>
<circle cx="361.4" cy="1712.7" r="9.8" fill="#000"/>
<circle cx="431.1" cy="1739.4" r="9.8" fill="#000"/>
<circle cx="501.2" cy="1567.7" r="9.7" fill="#fff" stroke="#000" stroke-width="2"/>
<circle cx="570.9" cy="1709.3" r="9.7" fill="#fff" stroke="#000" stroke-width="2"/>
<circle cx="640.8" cy="1755.5" r="9.7" fill="#fff" stroke="#000" stroke-width="2"/>
<circle cx="710.6" cy="1713.7" r="9.7" fill="#fff" stroke="#000" stroke-width="2"/>
<circle cx="501.2" cy="1637.4" r="9.7" fill="#fff" stroke="#000" stroke-width="2"/>
<circle cx="570.9" cy="1679.6" r="9.7" fill="#fff" stroke="#000" stroke-width="2"/>
<circle cx="640.8" cy="1700.6" r="9.7" fill="#fff" stroke="#000" stroke-width="2"/>
<circle cx="710.6" cy="1797" r="9.7" fill="#fff" stroke="#000" stroke-width="2"/>
<rect x="493.5" y="1726.1" width="15.4" height="15.4" fill="#fff" stroke="#000" stroke-width="2"/>
<rect x="563.2" y="1672.9" width="15.4" height="15.4" fill="#fff" stroke="#000" stroke-width="2"/>
<rect x="633.1" y="1714.6" width="15.4" height="15.4" fill="#fff" stroke="#000" stroke-width="2"/>
<rect x="702.9" y="1774.3" width="15.4" height="15.4" fill="#fff" stroke="#000" stroke-width="2"/>
<line x1="177" y1="1797.5" x2="724.1" y2="1797.5" stroke="#1e1e1e" stroke-width="2.4" stroke-dasharray="13.3 13.08" stroke-dashoffset="12.88"/>
<line x1="213.2" y1="1797.5" x2="218" y2="1797.5" stroke="#1e1e1e" stroke-width="2.4" />
<path d="M495.1,1465.2 V1455.8 H700.6 V1465.2" fill="none" stroke="#3c3c3c" stroke-width="1.5"/>
<path d="M499.2,1506.8 V1495.9 H637.1 V1506.8" fill="none" stroke="#3c3c3c" stroke-width="1.5"/>
<path d="M498.8,1549.6 V1541.7 H582.9 V1549.6" fill="none" stroke="#3c3c3c" stroke-width="1.5"/>
<text x="548" y="1447.1" font-size="32.6" text-anchor="start" font-weight="normal" font-style="italic" fill="#1c1c1c" >p=0.25</text>
<text x="522.6" y="1490.3" font-size="32.6" text-anchor="start" font-weight="normal" font-style="italic" fill="#1c1c1c" >p=0.50</text>
<text x="489.8" y="1532.1" font-size="32.6" text-anchor="start" font-weight="normal" font-style="italic" fill="#1c1c1c" >p=0.75</text>
<text transform="translate(98.3,1710.6) rotate(-90)" x="0" y="0" font-size="32.3" text-anchor="middle" fill="#141414">% CD14<tspan font-size="26.8" dy="-12">+</tspan><tspan dy="12"> cells of PBMCs</tspan></text>
<line x1="901.5" y1="1896.6" x2="914.55" y2="1896.6" stroke="#000" stroke-width="3.7" />
<line x1="901.5" y1="1768.2" x2="914.55" y2="1768.2" stroke="#000" stroke-width="3.7" />
<line x1="901.5" y1="1639.4" x2="914.55" y2="1639.4" stroke="#000" stroke-width="3.7" />
<line x1="901.5" y1="1509.5" x2="914.55" y2="1509.5" stroke="#000" stroke-width="3.7" />
<text x="865" y="1904.2" font-size="32" text-anchor="middle" font-weight="normal" font-style="normal" fill="#141414" >0</text>
<text x="865" y="1779.4" font-size="32" text-anchor="middle" font-weight="normal" font-style="normal" fill="#141414" >1</text>
<text x="865" y="1654.2" font-size="32" text-anchor="middle" font-weight="normal" font-style="normal" fill="#141414" >2</text>
<text x="865" y="1528.2" font-size="32" text-anchor="middle" font-weight="normal" font-style="normal" fill="#141414" >3</text>
<line x1="912.7" y1="1507.65" x2="912.7" y2="1898.45" stroke="#000" stroke-width="3.7" />
<line x1="901.5" y1="1896.6" x2="1492.4" y2="1896.6" stroke="#000" stroke-width="3.7" />
<line x1="959.1" y1="1896.6" x2="959.1" y2="1908.4" stroke="#000" stroke-width="3.7" />
<line x1="1028.8" y1="1896.6" x2="1028.8" y2="1908.4" stroke="#000" stroke-width="3.7" />
<line x1="1098.5" y1="1896.6" x2="1098.5" y2="1908.4" stroke="#000" stroke-width="3.7" />
<line x1="1168.5" y1="1896.6" x2="1168.5" y2="1908.4" stroke="#000" stroke-width="3.7" />
<line x1="1237.8" y1="1896.6" x2="1237.8" y2="1908.4" stroke="#000" stroke-width="3.7" />
<line x1="1307.6" y1="1896.6" x2="1307.6" y2="1908.4" stroke="#000" stroke-width="3.7" />
<line x1="1376.8" y1="1896.6" x2="1376.8" y2="1908.4" stroke="#000" stroke-width="3.7" />
<line x1="1446.8" y1="1896.6" x2="1446.8" y2="1908.4" stroke="#000" stroke-width="3.7" />
<text x="955.2" y="1944.1" font-size="32" text-anchor="middle" font-weight="normal" font-style="normal" fill="#141414" >BL</text>
<text x="1023.4" y="1944.1" font-size="32" text-anchor="middle" font-weight="normal" font-style="normal" fill="#141414" >1mo</text>
<text x="1094.1" y="1944.1" font-size="32" text-anchor="middle" font-weight="normal" font-style="normal" fill="#141414" >3mo</text>
<text x="1165.3" y="1944.1" font-size="32" text-anchor="middle" font-weight="normal" font-style="normal" fill="#141414" >6mo</text>
<text x="1235" y="1944.1" font-size="32" text-anchor="middle" font-weight="normal" font-style="normal" fill="#141414" >BL</text>
<text x="1303.2" y="1944.1" font-size="32" text-anchor="middle" font-weight="normal" font-style="normal" fill="#141414" >1mo</text>
<text x="1374.8" y="1944.1" font-size="32" text-anchor="middle" font-weight="normal" font-style="normal" fill="#141414" >3mo</text>
<text x="1445.9" y="1944.1" font-size="32" text-anchor="middle" font-weight="normal" font-style="normal" fill="#141414" >6mo</text>
<line x1="990.8" y1="1957.4" x2="1190.8" y2="1957.4" stroke="#111" stroke-width="1.8" />
<line x1="1276.9" y1="1957.4" x2="1475.7" y2="1957.4" stroke="#111" stroke-width="1.8" />
<text x="1093.5" y="1993.4" font-size="32" text-anchor="middle" font-weight="normal" font-style="normal" fill="#141414" >ChT</text>
<text x="1370.4" y="1993.4" font-size="32" text-anchor="middle" font-weight="normal" font-style="normal" fill="#141414" >ET</text>
<polyline points="959.1,1768.2 1028.8,1726.8 1098.5,1619.7 1168.5,1773.8" fill="none" stroke="#000" stroke-width="2.1" stroke-linejoin="round"/>
<polyline points="959.1,1768.2 1028.8,1587.7 1098.5,1695.1 1168.5,1722.6" fill="none" stroke="#000" stroke-width="2.1" stroke-linejoin="round"/>
<polyline points="1237.8,1768.3 1307.6,1788.7 1376.8,1799.4 1446.8,1848.3" fill="none" stroke="#000" stroke-width="2.1" stroke-linejoin="round"/>
<polyline points="1237.8,1768.3 1307.6,1823.9 1376.8,1841.6 1446.8,1825.3" fill="none" stroke="#000" stroke-width="2.1" stroke-linejoin="round"/>
<polyline points="1237.8,1768.3 1307.6,1725.6 1376.8,1759.1 1446.8,1807" fill="none" stroke="#000" stroke-width="2.1" stroke-linejoin="round"/>
<rect x="951.4" y="1760.5" width="15.4" height="15.4" fill="#000"/>
<rect x="1021.1" y="1719.1" width="15.4" height="15.4" fill="#000"/>
<rect x="1090.8" y="1612" width="15.4" height="15.4" fill="#000"/>
<rect x="1160.8" y="1766.1" width="15.4" height="15.4" fill="#000"/>
<circle cx="959.1" cy="1768.2" r="9.8" fill="#000"/>
<circle cx="1028.8" cy="1587.7" r="9.8" fill="#000"/>
<circle cx="1098.5" cy="1695.1" r="9.8" fill="#000"/>
<circle cx="1168.5" cy="1722.6" r="9.8" fill="#000"/>
<circle cx="1237.8" cy="1768.3" r="9.7" fill="#fff" stroke="#000" stroke-width="2"/>
<circle cx="1307.6" cy="1788.7" r="9.7" fill="#fff" stroke="#000" stroke-width="2"/>
<circle cx="1376.8" cy="1799.4" r="9.7" fill="#fff" stroke="#000" stroke-width="2"/>
<circle cx="1446.8" cy="1848.3" r="9.7" fill="#fff" stroke="#000" stroke-width="2"/>
<circle cx="1237.8" cy="1768.3" r="9.7" fill="#fff" stroke="#000" stroke-width="2"/>
<circle cx="1307.6" cy="1823.9" r="9.7" fill="#fff" stroke="#000" stroke-width="2"/>
<circle cx="1376.8" cy="1841.6" r="9.7" fill="#fff" stroke="#000" stroke-width="2"/>
<circle cx="1446.8" cy="1825.3" r="9.7" fill="#fff" stroke="#000" stroke-width="2"/>
<rect x="1230.1" y="1760.6" width="15.4" height="15.4" fill="#fff" stroke="#000" stroke-width="2"/>
<rect x="1299.9" y="1717.9" width="15.4" height="15.4" fill="#fff" stroke="#000" stroke-width="2"/>
<rect x="1369.1" y="1751.4" width="15.4" height="15.4" fill="#fff" stroke="#000" stroke-width="2"/>
<rect x="1439.1" y="1799.3" width="15.4" height="15.4" fill="#fff" stroke="#000" stroke-width="2"/>
<line x1="914" y1="1768.3" x2="1474" y2="1768.3" stroke="#1e1e1e" stroke-width="2.4" stroke-dasharray="13.2 14.21" stroke-dashoffset="21.31"/>
<path d="M1231.3,1594.3 V1584.5 H1437.3 V1594.3" fill="none" stroke="#3c3c3c" stroke-width="1.5"/>
<path d="M1233.8,1640.7 V1629.5 H1371.7 V1640.7" fill="none" stroke="#3c3c3c" stroke-width="1.5"/>
<path d="M1233.3,1688.9 V1681.2 H1317.6 V1688.9" fill="none" stroke="#3c3c3c" stroke-width="1.5"/>
<text x="1298.6" y="1576.4" font-size="32.6" text-anchor="start" font-weight="normal" font-style="italic" fill="#1c1c1c" >p=0.25</text>
<text x="1257.9" y="1621.8" font-size="32.6" text-anchor="start" font-weight="normal" font-style="italic" fill="#1c1c1c" >p=0.50</text>
<text x="1224.9" y="1672.7" font-size="32.6" text-anchor="start" font-weight="normal" font-style="italic" fill="#1c1c1c" >p=0.75</text>
<text transform="translate(831.2,1689.4) rotate(-90)" x="0" y="0" font-size="32.3" text-anchor="middle" fill="#141414">Fold change CD14<tspan font-size="26.8" dy="-12">+</tspan><tspan dy="12">cells</tspan></text>
<rect x="720.2" y="132.8" width="2" height="1.2" fill="#888"/>
<rect x="506" y="132.9" width="1.3" height="1" fill="#aaa"/>
<rect x="246.4" y="2039.9" width="1002.1" height="152.6" fill="none" stroke="#181818" stroke-width="2.5"/>
<circle cx="288.6" cy="2055.8" r="12" fill="#202020"/>
<rect x="278.7" y="2086.5" width="19.9" height="19.6" fill="#202020"/>
<path d="M288.6,2120.4 L302,2146.4 L275.6,2146.4 Z" fill="#202020"/>
<path d="M288.6,2160.4 L302.6,2174.1 L288.6,2187.8 L275,2174.1 Z" fill="#202020"/>
<text transform="translate(322.8,2069.6) scale(1.045,1)" x="0" y="0" font-size="31.5" fill="#1a1a1a">FEC</text>
<text transform="translate(322.8,2108) scale(1.034,1)" x="0" y="0" font-size="31.5" fill="#1a1a1a">Capecitabine (TNBC)</text>
<text transform="translate(322.8,2147.1) scale(1.028,1)" x="0" y="0" font-size="31.5" fill="#1a1a1a">Capecitabine + trastuzumab (HER2+)</text>
<text transform="translate(322.8,2185.5) scale(1.038,1)" x="0" y="0" font-size="31.5" fill="#1a1a1a">Docetaxel</text>
<path d="M866,2045.5 H880.5 V2180 H866" fill="none" stroke="#3c3c3c" stroke-width="1.6"/>
<text x="887.5" y="2125" font-size="31.5" text-anchor="start" font-weight="normal" font-style="italic" fill="#1a1a1a" >ChT</text>
<circle cx="1024.7" cy="2092.5" r="11" fill="#fff" stroke="#1a1a1a" stroke-width="1.9"/>
<rect x="1016.1" y="2126.3" width="18" height="17.6" fill="#fff" stroke="#1a1a1a" stroke-width="1.6"/>
<text x="1054.5" y="2106.2" font-size="31.5" text-anchor="start" font-weight="normal" font-style="normal" fill="#1a1a1a" >AI</text>
<text transform="translate(1055,2144.9) scale(1.025,1)" x="0" y="0" font-size="31.5" fill="#1a1a1a">TAM</text>
<path d="M1154.4,2087.9 H1168.7 V2142.7 H1154.4" fill="none" stroke="#3c3c3c" stroke-width="1.6"/>
<text x="1181.5" y="2126.1" font-size="31.5" text-anchor="start" font-weight="normal" font-style="italic" fill="#1a1a1a" >ET</text>
</svg>
</body></html>
